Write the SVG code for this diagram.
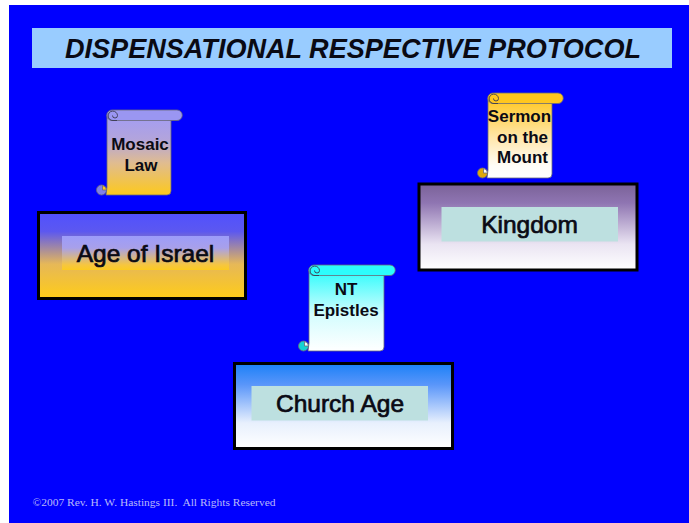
<svg xmlns="http://www.w3.org/2000/svg" width="689" height="523" viewBox="0 0 689 523">
<defs>
<linearGradient id="gIsrael" x1="0" y1="0" x2="0" y2="1"><stop offset="0" stop-color="#5050ff"/><stop offset="0.22" stop-color="#5c58f0"/><stop offset="0.6" stop-color="#e6b858"/><stop offset="1" stop-color="#ffcc18"/></linearGradient>
<linearGradient id="gIsraelIn" x1="0" y1="0" x2="0" y2="1"><stop offset="0" stop-color="#9c9cfa"/><stop offset="0.35" stop-color="#a8a0ea"/><stop offset="0.85" stop-color="#f6c640"/><stop offset="1" stop-color="#fccb20"/></linearGradient>
<linearGradient id="gKingdom" x1="0" y1="0" x2="0" y2="1"><stop offset="0" stop-color="#7a6298"/><stop offset="0.22" stop-color="#8f75b2"/><stop offset="0.7" stop-color="#eae4f2"/><stop offset="1" stop-color="#ffffff"/></linearGradient>
<linearGradient id="gChurch" x1="0" y1="0" x2="0" y2="1"><stop offset="0" stop-color="#1a80f8"/><stop offset="0.25" stop-color="#5a96fa"/><stop offset="0.7" stop-color="#e8f0fd"/><stop offset="1" stop-color="#ffffff"/></linearGradient>
<linearGradient id="gS1" x1="0" y1="0" x2="0" y2="1"><stop offset="0" stop-color="#a29cf4"/><stop offset="0.3" stop-color="#b2a4dc"/><stop offset="0.6" stop-color="#e0bc90"/><stop offset="1" stop-color="#fdc91c"/></linearGradient>
<linearGradient id="gS2" x1="0" y1="0" x2="0" y2="1"><stop offset="0" stop-color="#ffc61e"/><stop offset="0.5" stop-color="#ffe7ac"/><stop offset="0.85" stop-color="#fffdf8"/><stop offset="1" stop-color="#ffffff"/></linearGradient>
<linearGradient id="gS3" x1="0" y1="0" x2="0" y2="1"><stop offset="0" stop-color="#2cfcfc"/><stop offset="0.55" stop-color="#d4fdfe"/><stop offset="1" stop-color="#ffffff"/></linearGradient>
</defs>
<style>
text{font-family:"Liberation Sans",Arial,sans-serif;fill:#0a0a14;text-anchor:middle}
.box{stroke:#000;stroke-width:3}
.lab{font-size:24.500px;stroke:#0a0a14;stroke-width:0.700px}
.sc{font-size:17px;font-weight:bold;stroke:none}
.outl{stroke:#6a6a78;stroke-width:0.800}
.curl{stroke:#3a3a50;stroke-width:0.900;fill:none}
</style>
<rect width="689" height="523" fill="#ffffff"/>
<rect x="9" y="5" width="680" height="518" fill="#0000ff"/>
<g id="title">
<rect x="32" y="28" width="640" height="40" fill="#99ccff"/>
<text x="353" y="58" font-size="28px" font-weight="bold" font-style="italic" textLength="576" lengthAdjust="spacingAndGlyphs">DISPENSATIONAL RESPECTIVE PROTOCOL</text>
</g>
<g id="connectors"></g>
<g id="scroll-mosaic" transform="translate(96,109)">
<path class="outl" fill="url(#gS1)" d="M11 6 V78 L10 86 H71 A4 4 0 0 0 75 82 V11 Z"/>
<path class="outl" fill="#9a96f2" d="M16 1 H81 A5 5 0 0 1 81 11.500 H16 A5 5 0 0 1 16 1 Z"/>
<path class="curl" d="M21 11.500 H17 A4.700 4.700 0 1 1 21.500 6.500 A2.500 2.500 0 0 1 16.500 6.500"/>
<circle class="outl" cx="5.500" cy="81" r="5" fill="#8080e8"/>
<path class="outl" fill="#fdc91c" d="M6.500 81 V76.500 A5 5 0 0 1 10.500 81 Z"/>
<text class="sc" x="44" y="41">Mosaic</text>
<text class="sc" x="45" y="61.500">Law</text>
</g>
<g id="scroll-sermon" transform="translate(477,92)">
<path class="outl" fill="url(#gS2)" d="M11 6 V78 L10 86 H71 A4 4 0 0 0 75 82 V11 Z"/>
<path class="outl" fill="#ffc61e" d="M16 1 H81 A5 5 0 0 1 81 11.500 H16 A5 5 0 0 1 16 1 Z"/>
<path class="curl" d="M21 11.500 H17 A4.700 4.700 0 1 1 21.500 6.500 A2.500 2.500 0 0 1 16.500 6.500"/>
<circle class="outl" cx="5.500" cy="81" r="5" fill="#dfa80c"/>
<path class="outl" fill="#ffffff" d="M6.500 81 V76.500 A5 5 0 0 1 10.500 81 Z"/>
<text class="sc" x="42.500" y="30">Sermon</text>
<text class="sc" x="45.500" y="51">on the</text>
<text class="sc" x="45.500" y="71">Mount</text>
</g>
<g id="scroll-nt" transform="translate(298,264)">
<path class="outl" fill="url(#gS3)" d="M11 6 V79 L10 87 H82 A4 4 0 0 0 86 83 V11 Z"/>
<path class="outl" fill="#2cfcfc" d="M16 1 H92 A5 5 0 0 1 92 11.500 H16 A5 5 0 0 1 16 1 Z"/>
<path class="curl" d="M21 11.500 H17 A4.700 4.700 0 1 1 21.500 6.500 A2.500 2.500 0 0 1 16.500 6.500"/>
<circle class="outl" cx="5.500" cy="82" r="5" fill="#14d2d2"/>
<path class="outl" fill="#e8ffff" d="M6.500 82 V77.500 A5 5 0 0 1 10.500 82 Z"/>
<text class="sc" x="48" y="31">NT</text>
<text class="sc" x="48" y="52">Epistles</text>
</g>
<g id="node-israel">
<rect class="box" x="38.500" y="212.500" width="207" height="86" fill="url(#gIsrael)"/>
<rect x="62" y="236" width="167" height="34" fill="url(#gIsraelIn)"/>
<text class="lab" x="145.500" y="262">Age of Israel</text>
</g>
<g id="node-kingdom">
<rect class="box" x="419" y="184" width="218" height="86" fill="url(#gKingdom)"/>
<rect x="441.500" y="207" width="176.500" height="34.500" fill="#bde0e0"/>
<text class="lab" x="529.500" y="233">Kingdom</text>
</g>
<g id="node-church">
<rect class="box" x="234.500" y="363.500" width="218" height="85" fill="url(#gChurch)"/>
<rect x="251.500" y="386" width="176.500" height="34.500" fill="#bde0e0"/>
<text class="lab" x="340" y="412">Church Age</text>
</g>
<g id="copyright">
<text x="154" y="506" font-size="10px" textLength="243" lengthAdjust="spacingAndGlyphs" style="font-family:'Liberation Serif','Times New Roman',serif;fill:#b8b8fa;white-space:pre">©2007 Rev. H. W. Hastings III.  All Rights Reserved</text>
</g>
</svg>
